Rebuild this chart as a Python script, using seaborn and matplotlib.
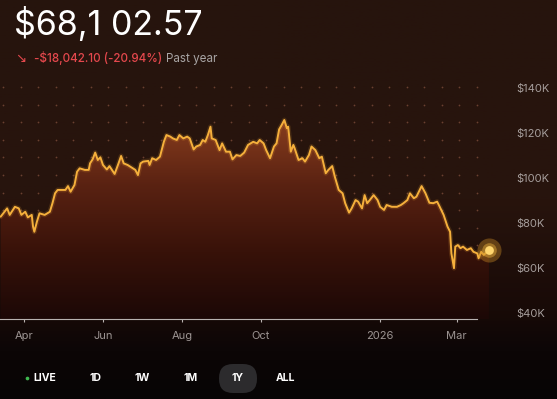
import numpy as np
import pandas as pd
import seaborn as sns
import matplotlib.pyplot as plt
import matplotlib.dates as mdates
from matplotlib.colors import LinearSegmentedColormap
from matplotlib.patches import FancyBboxPatch

# price history, thousands of USD
dates = [
    "2025-03-14", "2025-03-19", "2025-03-21", "2025-03-25", "2025-03-28", "2025-03-30",
    "2025-04-02", "2025-04-04", "2025-04-07", "2025-04-08", "2025-04-09", "2025-04-11",
    "2025-04-13", "2025-04-17", "2025-04-21", "2025-04-23", "2025-04-25", "2025-04-27",
    "2025-05-03", "2025-05-05", "2025-05-07", "2025-05-10", "2025-05-12", "2025-05-14",
    "2025-05-18", "2025-05-21", "2025-05-22", "2025-05-24", "2025-05-26", "2025-05-28",
    "2025-05-30", "2025-06-01", "2025-06-04", "2025-06-06", "2025-06-10", "2025-06-13",
    "2025-06-15", "2025-06-17", "2025-06-20", "2025-06-23", "2025-06-26", "2025-06-28",
    "2025-06-30", "2025-07-02", "2025-07-06", "2025-07-07", "2025-07-09", "2025-07-12",
    "2025-07-15", "2025-07-18", "2025-07-20", "2025-07-23", "2025-07-25", "2025-07-28",
    "2025-07-30", "2025-08-02", "2025-08-05", "2025-08-07", "2025-08-10", "2025-08-12",
    "2025-08-15", "2025-08-17", "2025-08-19", "2025-08-21", "2025-08-23", "2025-08-24",
    "2025-08-27", "2025-08-30", "2025-09-01", "2025-09-04", "2025-09-07", "2025-09-09",
    "2025-09-12", "2025-09-15", "2025-09-18", "2025-09-21", "2025-09-25", "2025-09-28",
    "2025-09-30", "2025-10-03", "2025-10-05", "2025-10-08", "2025-10-11", "2025-10-13",
    "2025-10-15", "2025-10-17", "2025-10-19", "2025-10-21", "2025-10-22", "2025-10-24",
    "2025-10-26", "2025-10-27", "2025-10-30", "2025-11-02", "2025-11-04", "2025-11-07",
    "2025-11-09", "2025-11-12", "2025-11-15", "2025-11-17", "2025-11-20", "2025-11-22",
    "2025-11-25", "2025-11-27", "2025-11-30", "2025-12-03", "2025-12-05", "2025-12-08",
    "2025-12-10", "2025-12-13", "2025-12-15", "2025-12-18", "2025-12-20", "2025-12-22",
    "2025-12-24", "2025-12-27", "2025-12-30", "2026-01-01", "2026-01-04", "2026-01-06",
    "2026-01-10", "2026-01-14", "2026-01-17", "2026-01-19", "2026-01-22", "2026-01-24",
    "2026-01-27", "2026-01-29", "2026-02-02", "2026-02-05", "2026-02-08", "2026-02-11",
    "2026-02-14", "2026-02-16", "2026-02-19", "2026-02-22", "2026-02-24", "2026-02-25",
    "2026-02-27", "2026-02-28", "2026-03-02", "2026-03-04", "2026-03-06", "2026-03-09",
    "2026-03-12", "2026-03-14", "2026-03-17", "2026-03-18", "2026-03-20", "2026-03-22",
    "2026-03-26",
]
prices = [
    82.8, 86.5, 83.6, 87.2, 86.5, 83.6,
    85.0, 82.5, 83.6, 78.4, 76.1, 80.6,
    84.3, 83.6, 85.0, 88.8, 93.2, 94.7,
    94.7, 96.4, 93.9, 96.9, 102.8, 104.3,
    103.6, 103.6, 106.5, 108.3, 111.3, 108.0,
    109.2, 105.8, 103.8, 105.3, 101.8, 106.5,
    109.8, 106.5, 105.8, 104.7, 103.6, 101.3,
    106.5, 107.3, 107.6, 105.8, 108.8, 108.0,
    109.5, 116.1, 119.1, 118.4, 117.6, 116.9,
    119.1, 117.6, 118.4, 117.6, 112.7, 114.0,
    114.7, 116.9, 116.1, 119.1, 122.8, 117.6,
    116.9, 112.4, 115.4, 111.7, 111.7, 108.3,
    110.2, 109.8, 111.3, 114.7, 116.1, 115.4,
    116.9, 115.4, 112.4, 108.8, 114.0, 115.4,
    121.6, 123.6, 125.8, 122.1, 122.8, 111.7,
    114.7, 113.2, 108.0, 108.8, 107.3, 110.2,
    114.0, 112.4, 108.8, 109.5, 102.1, 103.6,
    105.3, 100.6, 94.7, 93.2, 88.8, 84.6,
    86.5, 90.2, 89.5, 86.5, 92.4, 88.8,
    90.2, 92.4, 90.2, 87.2, 85.8, 88.0,
    87.2, 87.2, 88.0, 88.8, 90.2, 93.2,
    91.0, 91.7, 96.4, 93.2, 89.0, 88.8,
    89.5, 87.2, 83.6, 78.4, 76.1, 66.5,
    59.9, 69.5, 70.2, 68.8, 69.5, 68.0,
    68.8, 67.2, 66.5, 64.3, 67.2, 65.8,
    68.1,
]

tick_dates = ["2025-04-01", "2025-06-01", "2025-08-01", "2025-10-01", "2026-01-01", "2026-03-01"]
tick_labels = ["Apr", "Jun", "Aug", "Oct", "2026", "Mar"]
y_ticks = [40, 60, 80, 100, 120, 140]
y_labels = ["$40K", "$60K", "$80K", "$100K", "$120K", "$140K"]
ranges = ["1D", "1W", "1M", "1Y", "ALL"]
range_x = [95, 142, 191, 238, 286]

df = pd.DataFrame({"date": pd.to_datetime(dates), "price": prices})

sns.set_style("dark")
plt.rcParams["font.family"] = ["Inter", "DejaVu Sans"]

fig = plt.figure(figsize=(5.57, 3.99), dpi=100)

# background in pixel coordinates
bg = fig.add_axes([0, 0, 1, 1])
bg_cmap = LinearSegmentedColormap.from_list(
    "bg", [(0, "#26140d"), (0.5, "#28140d"), (0.78, "#180a07"), (0.88, "#0c0606"), (1, "#070505")])
bg.imshow(np.linspace(0, 1, 256).reshape(-1, 1), cmap=bg_cmap,
          extent=[0, 557, 399, 0], aspect="auto")
bg.set_xlim(0, 557)
bg.set_ylim(399, 0)
bg.axis("off")

# dotted grid
gx, gy = np.meshgrid(np.arange(3, 478, 17.55), np.arange(87, 310, 17.6))
bg.scatter(gx.ravel(), gy.ravel(), s=1.6, color="#6a4030", linewidths=0)

# main chart
ax = fig.add_axes([0, 80 / 399, 495 / 557, 239 / 399])
x0 = pd.Timestamp("2025-03-13 12:00")
x1 = pd.Timestamp("2026-03-30 16:00")
ybot, ytop = 37.33, 143.56

poly = ax.fill_between(df["date"], df["price"], ybot, facecolor="none", edgecolor="none")
fill_cmap = LinearSegmentedColormap.from_list("fill", ["#1c0806", "#381209", "#5a2212", "#8a3e1e"])
img = ax.imshow(np.linspace(0, 1, 256).reshape(-1, 1), cmap=fill_cmap, origin="lower",
                extent=[mdates.date2num(x0), mdates.date2num(x1), ybot, 127],
                aspect="auto", zorder=1)
img.set_clip_path(poly.get_paths()[0], transform=ax.transData)

ax.plot(df["date"], df["price"], color="#ffb23a", lw=3.5, alpha=0.15, zorder=2)
sns.lineplot(data=df, x="date", y="price", ax=ax, color="#f5b03c", linewidth=1.4, zorder=3)

last = df.iloc[-1]
ax.scatter([last["date"]], [last["price"]], s=300, color="#c88a26", alpha=0.4,
           linewidths=0, zorder=4, clip_on=False)
ax.scatter([last["date"]], [last["price"]], s=110, color="#e0a83a", alpha=0.5,
           linewidths=0, zorder=4, clip_on=False)
ax.scatter([last["date"]], [last["price"]], s=40, color="#ffd66e",
           linewidths=0, zorder=5, clip_on=False)

ax.set_xlim(x0, x1)
ax.set_ylim(ybot, ytop)
ax.set_facecolor("none")
ax.grid(False)
ax.set_xlabel("")
ax.set_ylabel("")
for side in ["top", "left", "right"]:
    ax.spines[side].set_visible(False)
ax.spines["bottom"].set_color("#b8b2b0")
ax.spines["bottom"].set_linewidth(0.8)
ax.spines["bottom"].set_bounds(mdates.date2num(x0), mdates.date2num(pd.Timestamp("2026-03-17")))

ax.set_xticks(pd.to_datetime(tick_dates))
ax.set_xticklabels(tick_labels)
ax.tick_params(axis="x", direction="inout", length=5, width=0.8, color="#b8b2b0",
               labelsize=8, labelcolor="#9c9492", pad=6, bottom=True)
ax.yaxis.tick_right()
ax.set_yticks(y_ticks)
ax.set_yticklabels(y_labels)
ax.tick_params(axis="y", length=0, labelsize=8, labelcolor="#a69e9c", pad=15)

# header
bg.text(14, 35, "$68,1 02.57", color="white", fontsize=24.5, va="baseline")
bg.text(15, 62, "\u2198", color="#e5484d", fontsize=9.5, va="baseline", family=["DejaVu Sans"])
chg = bg.text(34, 62, "-$18,042.10 (-20.94%)", color="#e5484d", fontsize=8.4,
              fontweight="medium", va="baseline")
fig.canvas.draw()
chg_end = bg.transData.inverted().transform(chg.get_window_extent().corners()[-1])[0]
bg.text(chg_end + 4, 62, "Past year", color="#a8a4a4", fontsize=8.4, va="baseline")

# range selector
bg.add_patch(FancyBboxPatch((219, 364), 38, 29, boxstyle="round,pad=0,rounding_size=14",
                            facecolor="#2c2b2d", edgecolor="none"))
bg.scatter([27], [378], s=7, color="#3fb950", linewidths=0)
bg.text(45, 378, "LIVE", color="white", fontsize=7.5, fontweight="bold", ha="center", va="center")
for lab, xp in zip(ranges, range_x):
    bg.text(xp, 378, lab, color="white", fontsize=7.5, fontweight="bold", ha="center", va="center")

fig.savefig("out.png", dpi=100)
